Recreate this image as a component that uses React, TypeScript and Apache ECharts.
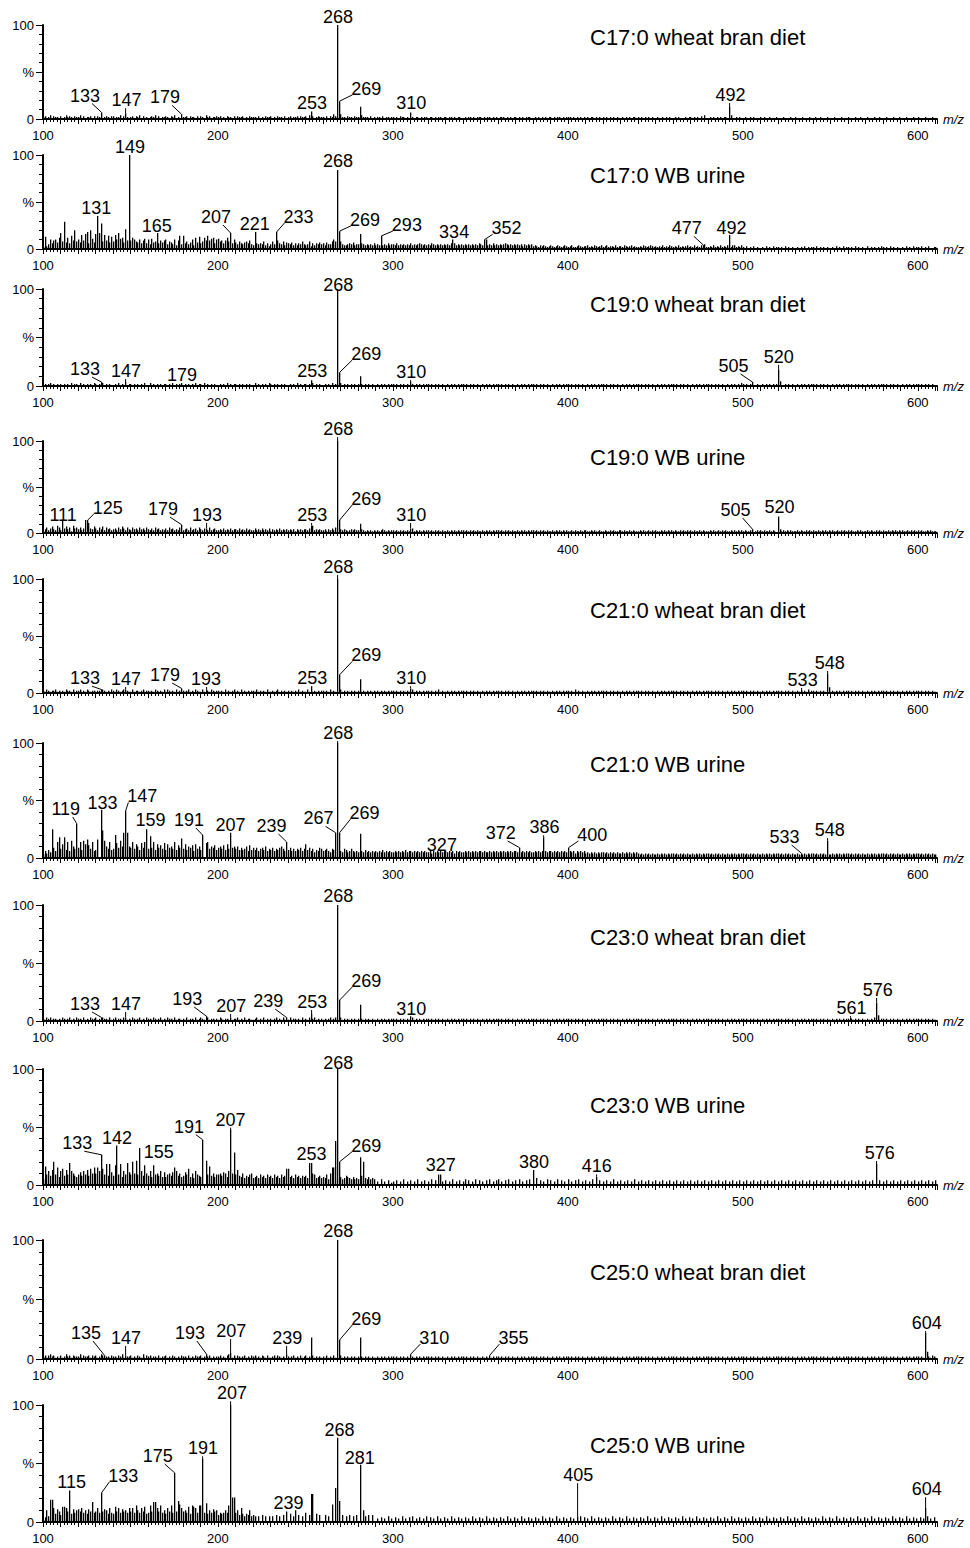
import React, { useEffect, useRef } from "react";
import * as echarts from "echarts";

// ---------------- data ----------------
const MZ_MIN = 100;
const MZ_MAX = 611;
const X_LABELS = [100, 200, 300, 400, 500, 600];

const TITLES = [
  "C17:0 wheat bran diet",
  "C17:0 WB urine",
  "C19:0 wheat bran diet",
  "C19:0 WB urine",
  "C21:0 wheat bran diet",
  "C21:0 WB urine",
  "C23:0 wheat bran diet",
  "C23:0 WB urine",
  "C25:0 wheat bran diet",
  "C25:0 WB urine",
];

// major peaks: [m/z, relative intensity %]
const MAJOR_1 = [[133, 7], [147, 6], [179, 5], [193, 4], [253, 8], [266, 5], [268, 100], [269, 19], [270, 5], [281, 13], [282, 4], [310, 7], [478, 4], [492, 13], [493, 4]];
const MAJOR_2 = [[112, 29], [131, 35], [133, 27], [147, 21], [149, 100], [165, 17], [207, 17], [221, 18], [233, 18], [268, 84], [269, 19], [281, 16], [293, 14], [334, 10], [352, 10], [477, 4], [492, 15]];
const MAJOR_3 = [[133, 4], [147, 4], [179, 3], [253, 6], [268, 100], [269, 14], [281, 10], [310, 4], [505, 4], [520, 17], [521, 5]];
const MAJOR_4 = [[111, 13], [125, 14], [179, 9], [193, 5], [253, 8], [268, 100], [269, 14], [281, 10], [310, 5], [505, 4], [520, 18]];
const MAJOR_5 = [[133, 3], [147, 3], [179, 4], [193, 3], [253, 6], [268, 100], [269, 16], [281, 12], [310, 4], [533, 3], [548, 17], [549, 5]];
const MAJOR_6 = [[105, 25], [119, 30], [133, 42], [134, 24], [146, 22], [147, 41], [148, 22], [159, 25], [161, 19], [179, 17], [191, 20], [207, 22], [239, 14], [250, 12], [267, 22], [268, 100], [269, 22], [281, 21], [327, 6], [372, 9], [386, 18], [400, 9], [533, 4], [548, 15]];
const MAJOR_7 = [[133, 3], [147, 3], [193, 4], [207, 3], [239, 3], [253, 6], [268, 100], [269, 18], [281, 14], [310, 4], [561, 3], [576, 16], [577, 5]];
const MAJOR_8 = [[106, 20], [115, 19], [133, 26], [142, 34], [151, 20], [153, 21], [155, 32], [163, 17], [175, 15], [191, 39], [193, 21], [195, 16], [207, 48], [209, 28], [240, 14], [253, 19], [264, 10], [265, 15], [267, 38], [268, 100], [269, 20], [281, 24], [283, 20], [327, 9], [380, 13], [416, 7], [576, 18]];
const MAJOR_9 = [[135, 3], [147, 3], [193, 4], [207, 5], [239, 4], [253, 18], [268, 100], [269, 16], [281, 18], [310, 4], [355, 3], [604, 22], [605, 6]];
const MAJOR_10 = [[105, 19], [112, 13], [115, 27], [128, 17], [133, 25], [161, 14], [164, 17], [175, 42], [178, 15], [186, 13], [190, 14], [191, 54], [193, 16], [207, 100], [209, 21], [239, 9], [253, 24], [265, 15], [267, 29], [268, 72], [269, 18], [281, 49], [283, 10], [405, 5], [604, 12]];

// peak annotations: [peak m/z, label centre m/z, label centre height %]
const LABEL_1 = [[133, 124, 25], [147, 147.8, 20], [179, 169.8, 23], [253, 253.7, 17], [268, 268.6, 108], [269, 284.8, 32], [310, 310.5, 17], [492, 493, 25.5]];
const LABEL_2 = [[131, 130.5, 43.8], [149, 149.8, 109], [165, 165, 24.7], [207, 198.9, 34], [221, 221, 27], [233, 246, 34], [268, 268.6, 93.6], [269, 284, 31], [293, 308, 25.5], [334, 335, 18], [352, 365, 22], [477, 468, 22], [492, 493.6, 22]];
const LABEL_3 = [[133, 124, 17.5], [147, 147.5, 15.5], [179, 179.5, 11.3], [253, 253.9, 15.5], [268, 268.8, 104], [269, 284.8, 33], [310, 310.5, 14.4], [505, 494.7, 20.6], [520, 520.5, 30]];
const LABEL_4 = [[111, 111.5, 19.6], [125, 137, 27], [179, 168.6, 26], [193, 193.8, 19.6], [253, 253.9, 19.6], [268, 268.8, 113], [269, 284.8, 37], [310, 310.5, 19.6], [505, 495.9, 25], [520, 521, 28]];
const LABEL_5 = [[133, 124, 13], [147, 147.5, 12.3], [179, 169.8, 15.8], [193, 193.2, 12.3], [253, 253.9, 13], [268, 268.8, 110.5], [269, 284.8, 33], [310, 310.5, 13], [533, 534.2, 11.4], [548, 549.7, 26.3]];
const LABEL_6 = [[119, 113, 42.6], [133, 134, 47.8], [147, 156.8, 53.5], [159, 161.4, 33], [191, 183.4, 33], [207, 207.2, 28.7], [239, 230.6, 27.8], [267, 257.5, 34.5], [268, 268.8, 108.7], [269, 283.8, 39], [327, 328, 11.7], [372, 361.6, 21.7], [386, 386.6, 26.7], [400, 414, 20], [533, 523.9, 18.3], [548, 549.7, 24.3]];
const LABEL_7 = [[133, 124, 14.7], [147, 147.5, 14.7], [193, 182.4, 19], [207, 207.6, 13], [239, 228.7, 17.2], [253, 253.9, 16.4], [268, 268.8, 107.8], [269, 284.8, 34.5], [310, 310.5, 10.3], [561, 562.2, 11.2], [576, 577.1, 26.7]];
const LABEL_8 = [[133, 119.6, 36], [142, 142.3, 40.5], [155, 166.2, 28.7], [191, 183.4, 50.3], [207, 207.2, 56.3], [253, 253.5, 27], [268, 268.8, 105], [269, 284.8, 34], [327, 327.3, 17], [380, 380.7, 20], [416, 416.5, 16], [576, 578.3, 27.6]];
const LABEL_9 = [[135, 124.6, 21.8], [147, 147.5, 17.6], [193, 184, 21.8], [207, 207.6, 23.5], [239, 239.6, 17.6], [268, 268.8, 107.6], [269, 284.8, 33.6], [310, 323.7, 17.6], [355, 368.9, 17.6], [604, 605.2, 30.3]];
const LABEL_10 = [[115, 116.4, 34.4], [133, 145.9, 39.3], [175, 165.6, 56.4], [191, 191.5, 63], [207, 208, 110], [239, 240.3, 16], [268, 269.5, 79], [281, 281, 55], [405, 406, 40], [604, 605.2, 28]];

// minor ion profiles, one base-36 character per m/z starting at m/z 100 (value = % intensity)
const PROFILE_1 =
  "2312413221 3124232132 2413122313 1324123213 3122413221 2313241312 1232413122 3213241213 2231322131 3214231223 " +
  "2312132213 1322312132 2213121322 3121322131 2312231322 3142312322 2131322330 3221322132 2312221312 1221312212 " +
  "2121322121 3212212122 1221212212 2122121221 1212212122 2121221212 1222121212 2121212221 1212121212 2121221212 " +
  "2212121212 1212212121 2121212121 1212121221 2121212121 1210212121 1212101212 2121213121 1212121212 2142112121 " +
  "1201212101 2120121012 1012101210 2101210120 1210210121 1021012101 2101201210 1210120121 0121012012 1012101210 " +
  "2101210121 0";
const PROFILE_2 =
  "2d35a69a7c h8t7c6e9k8 a7f9gi6kb7 g0hr8f9e7d 8fahbc7l90 9ca87a69b6 a5b78h6979 a5875a49e5 e6857a4c7d 68c9e9bc6a " +
  "b8969c8h6a 7586578695 4i65658463 585i965847 6574646585 4583646575 647558a800 8544565745 5g65454546 454e454645 " +
  "5464545454 6454565454 5465454545 4546a64545 4545454546 545a454645 4545654545 4545354545 3432434323 4323432343 " +
  "2342234323 3423243234 2342332423 3243234232 2324323432 3232423243 2324232342 3242324252 2324232423 24f2442324 " +
  "2131213121 1213121312 2121312121 1212131212 2131212121 1213121312 2121312121 1312121213 2121312121 1213121312 " +
  "2130213102 2";
const PROFILE_3 =
  "1212312121 2121213122 1312121213 2121312121 1213121312 2121212131 1312121212 2121312121 1212121312 2131212121 " +
  "1212131212 2121212121 1312121213 2121212121 1212131212 2121312121 1212131200 3121212121 2021212121 1212121212 " +
  "2121212121 1212121212 2121212121 1212121212 2121212121 1212121212 2121212121 1212121212 2121212121 1212121212 " +
  "2121212121 1212121212 2121212121 1212121212 2121212121 1212121212 2121212121 1212121212 2121212121 1212121213 " +
  "2121210121 1212121212 0211212121 1212121212 2121212121 1212121212 2121212121 1212121212 2121212121 1212121212 " +
  "2121212121 1";
const PROFILE_4 =
  "2463574386 3d57462856 4635e8b547 5364736453 4536475364 3645364536 4353645343 5364534365 3453634536 4354363453 " +
  "3435343534 4353435343 3534353435 2434353434 3434243434 4353834343 3424353600 4343234343 3a43232323 2323432323 " +
  "3232323232 2523232323 3232323232 2323232323 3232323232 2323232323 3232323232 2323232323 3232323232 2323232323 " +
  "2232322323 3223232232 2322323223 3232232322 2323223232 3223232323 2322323232 3232232322 2323223232 3223232323 " +
  "2322340232 3232232320 0423232322 2323223232 3223232323 2322323232 3232232322 2323223232 3223232323 2322323232 " +
  "3232232322 2";
const PROFILE_5 =
  "2132122312 1213221312 2312132122 1221321213 2132123121 1312212312 2121321213 1321213122 2123121321 1312213212 " +
  "2121312123 1213121212 2131212131 1212312121 2121213121 1312121212 2121312100 3121212121 2012121212 1212121212 " +
  "2121212121 1312121212 2121213121 1212121212 2121212121 1212121212 2121212121 1212121212 2121212121 1212121212 " +
  "2121312121 1212121212 2121212121 1212121212 2121212121 1212121212 2121212121 1212121212 2121212121 1212121212 " +
  "2121212121 1212121212 2121212121 1212121312 2121212121 1212121212 2121212121 1212121212 2121212121 1212121212 " +
  "2121212121 1";
const PROFILE_6 =
  "36475p96ei 8ci7e6fa8k 9e7fcgb8e6 7g0o9fa8e7 8kd9fam0ma 9e8ca7d9e6 8j9e7c9b8d 7c9a8e7b9h 8c7a9b6c8a 7c0de8a9b7 " +
  "9a8b7c809a 8a7978a6b7 9796897a68 796879a860 7968687968 c796857698 6786587000 6587568656 5065756565 6565756565 " +
  "5656565756 6565656565 5646565056 6565646565 5656565656 6565565656 5656565656 6505656565 5656565656 6565656565 " +
  "5656465656 4545454545 5454545454 4545454545 4343434343 3434343434 4343434343 3434343434 4343434343 3434343434 " +
  "4343434343 3434343434 4343434343 3434343434 4343434343 3434343434 4343434343 3434343434 4343434343 3434343434 " +
  "4343434343 3";
const PROFILE_7 =
  "2132312212 1321231213 2213121322 3121322131 2312213212 1321231213 2213212312 1322131221 2131221312 3212312212 " +
  "1321221312 2312131221 1231213121 2123121312 1312212131 2131231212 1212312300 3121212121 2121212121 1212121212 " +
  "2121212121 1312121212 2121212121 1212121212 2121212121 1212121212 2121212121 1212121212 2121212121 1212121212 " +
  "2121212121 1212121212 2121212121 1212121212 2121212121 1212121212 2121212121 1212121212 2121212121 1212121212 " +
  "2121212121 1212121212 2121212121 1212121212 2121212121 1212121212 2121212121 1212131212 2121212121 1212121212 " +
  "2121212121 1";
const PROFILE_8 =
  "5g9c8dk9f7 ce8d9jca87 9b8c9d8eaf afc0e9i8ib 8hd9i7c9jb 9kal9dc8ha 8c7h9a8c7b 79a8bfc8a7 8b9e7a6c98 7g0l9g8a79 " +
  "9a8ba7c0as 9d87a6879a 6786978697 869786978e 6786978687 86j7a96786 76958af000 7568765756 508k657565 0305030402 " +
  "3040305030 4030503040 3050409030 4030503040 3504030504 0304050304 5030405030 4050304050 3060403050 4030504030 " +
  "5030405030 4030506040 3040305030 4030403050 3040304030 4030403040 3040304030 4030403040 3040304030 4030403040 " +
  "3040304030 4030403040 3040304030 4030403040 3040304030 4030403040 3040304030 4030405040 3040304030 4030403040 " +
  "3040304030 4";
const PROFILE_9 =
  "2313423121 3124231322 2413223132 3124312213 2213241322 3121321413 2312213122 3121321213 2213121322 3121231212 " +
  "2312134213 1321231213 2312132131 1231321213 2123121312 3121312121 2131213100 3121212121 2021212121 1212121212 " +
  "2121212121 1212121212 2121212121 1212121212 2121212121 1212121212 2121212121 1212121212 2121212121 1212121212 " +
  "2121212121 1212121212 2121212121 1212121212 2121212121 1212121212 2121212121 1212121212 2121212121 1212121212 " +
  "2121212121 1212121212 2121212121 1212121212 2121212121 1212121212 2121212121 1212121212 2121212121 1212121212 " +
  "2121212132 1";
const PROFILE_10 =
  "24a5j8c7b9 6d8c9j7b8a b9c8a7b9c8 9c8d9ba7c8 7d9c8b9a8c 9c8ea8c9d7 8e9h8c9e8a 7c9e8f9i9c 9a8d7e9c8e 9g8c7a8b9a " +
  "6878a8e0lg 8a6c7576a5 6505060505 0506050606 0705a06050 8060o07060 0605060a00 0605060506 0800506060 0304030503 " +
  "0403050304 0503040305 0403050304 0305030403 0403050304 0305030403 0403050304 0305030403 0403050304 0305030403 " +
  "0403060504 0305030403 0403050304 0305030403 0403050304 0305030403 0403050304 0305030403 0403050304 0305030403 " +
  "0403050304 0305030403 0403050304 0305030403 0403050304 0305030403 0403050304 0305030403 0403050304 0305030403 " +
  "0403050304 0";

// ---------------- layout ----------------
const AXIS_LEFT = 43;
const AXIS_RIGHT = 937;
const PANEL_TOP = [25, 155, 289, 441, 579, 743, 905, 1069, 1240, 1405];
const PANEL_BASE = [119, 249, 386, 533, 693, 858, 1021, 1185, 1359, 1522];
const TITLE_X = 590;
const TITLE_Y = [37, 175, 304, 457, 610, 764, 937, 1105, 1272, 1445];
const FONT = "'Liberation Sans', Arial, Helvetica, sans-serif";

const MAJORS = [MAJOR_1, MAJOR_2, MAJOR_3, MAJOR_4, MAJOR_5, MAJOR_6, MAJOR_7, MAJOR_8, MAJOR_9, MAJOR_10];
const LABELS = [LABEL_1, LABEL_2, LABEL_3, LABEL_4, LABEL_5, LABEL_6, LABEL_7, LABEL_8, LABEL_9, LABEL_10];
const PROFILES = [PROFILE_1, PROFILE_2, PROFILE_3, PROFILE_4, PROFILE_5, PROFILE_6, PROFILE_7, PROFILE_8, PROFILE_9, PROFILE_10];

function decodeProfile(s: string): number[][] {
  const clean = s.replace(/\s+/g, "");
  const out: number[][] = [];
  for (let i = 0; i < clean.length; i++) {
    const h = parseInt(clean[i], 36);
    if (h > 0) out.push([MZ_MIN + i, h]);
  }
  return out;
}

function peaksFor(i: number): number[][] {
  const majors = MAJORS[i];
  const taken = new Set(majors.map((m) => m[0]));
  const minor = decodeProfile(PROFILES[i]).filter((p) => !taken.has(p[0]));
  return minor.concat(majors);
}

function labelData(i: number): number[][] {
  const majors = MAJORS[i];
  return LABELS[i].map(([mz, lx, ly]) => {
    const pk = majors.find((m) => m[0] === mz);
    return [mz, pk ? pk[1] : 0, lx, ly];
  });
}

function buildOption(): any {
  const n = TITLES.length;
  const grid: any[] = [];
  const xAxis: any[] = [];
  const yAxis: any[] = [];
  const series: any[] = [];
  const axisLineStyle = { color: "#000", width: 2 };
  const tickStyle = { color: "#000", width: 1 };

  for (let i = 0; i < n; i++) {
    grid.push({
      left: AXIS_LEFT,
      width: AXIS_RIGHT - AXIS_LEFT,
      top: PANEL_TOP[i],
      height: PANEL_BASE[i] - PANEL_TOP[i],
    });
    xAxis.push({
      type: "value",
      gridIndex: i,
      min: MZ_MIN,
      max: MZ_MAX,
      interval: 10,
      name: "m/z",
      nameLocation: "end",
      nameGap: 6,
      nameTextStyle: { fontStyle: "italic", fontSize: 13, color: "#000", fontFamily: FONT, padding: [7, 0, 0, 0], verticalAlign: "middle" },
      axisLine: { show: true, onZero: false, lineStyle: axisLineStyle },
      axisTick: { show: true, length: 5, lineStyle: tickStyle },
      minorTick: { show: true, splitNumber: 5, length: 3, lineStyle: tickStyle },
      splitLine: { show: false },
      axisLabel: {
        margin: 10,
        fontSize: 13,
        color: "#000",
        fontFamily: FONT,
        formatter: (v: number) => (X_LABELS.indexOf(v) >= 0 ? String(v) : ""),
      },
    });
    yAxis.push({
      type: "value",
      gridIndex: i,
      min: 0,
      max: 100,
      interval: 50,
      axisLine: { show: true, onZero: false, lineStyle: axisLineStyle },
      axisTick: { show: true, length: 7, lineStyle: tickStyle },
      minorTick: { show: true, splitNumber: 5, length: 4, lineStyle: tickStyle },
      splitLine: { show: false },
      axisLabel: {
        margin: 9,
        fontSize: 13,
        color: "#000",
        fontFamily: FONT,
        formatter: (v: number) => (v === 0 ? "0" : v === 50 ? "%" : v === 100 ? "100" : ""),
      },
    });
    series.push({
      type: "custom",
      xAxisIndex: i,
      yAxisIndex: i,
      data: peaksFor(i),
      silent: true,
      renderItem: (_p: any, api: any) => {
        const x = api.value(0);
        const y = api.value(1);
        const b = api.coord([x, 0]);
        const t = api.coord([x, y]);
        return {
          type: "rect",
          shape: { x: Math.round(b[0]), y: t[1], width: 1.3, height: b[1] - t[1] },
          style: { fill: "#000" },
        };
      },
    });
    series.push({
      type: "custom",
      xAxisIndex: i,
      yAxisIndex: i,
      data: labelData(i),
      silent: true,
      z: 5,
      renderItem: (_p: any, api: any) => {
        const mz = api.value(0);
        const ph = api.value(1);
        const lx = api.value(2);
        const ly = api.value(3);
        const L = api.coord([lx, ly]);
        const P = api.coord([mz, ph]);
        const px = Math.round(P[0]) + 0.6;
        const dx = px - L[0];
        let sx: number, sy: number;
        if (Math.abs(dx) < 5) {
          sx = px;
          sy = L[1] + 8;
        } else if (dx > 0) {
          sx = L[0] + 7;
          sy = L[1] + 8;
        } else {
          sx = L[0] - 14;
          sy = L[1] + 6;
        }
        const children: any[] = [
          {
            type: "text",
            style: {
              text: String(mz),
              x: L[0],
              y: L[1],
              align: "center",
              verticalAlign: "middle",
              fontSize: 18,
              fontFamily: FONT,
              fill: "#000",
            },
          },
        ];
        if (P[1] - sy > 1.5) {
          children.push({
            type: "line",
            shape: { x1: sx, y1: sy, x2: px, y2: P[1] },
            style: { stroke: "#000", lineWidth: 1 },
          });
        }
        return { type: "group", children };
      },
    });
  }

  const graphic = TITLES.map((t, i) => ({
    type: "text",
    x: TITLE_X,
    y: TITLE_Y[i],
    silent: true,
    style: { text: t, fontSize: 22, fontFamily: FONT, fill: "#000", verticalAlign: "middle" },
  }));

  return {
    animation: false,
    backgroundColor: "#fff",
    grid,
    xAxis,
    yAxis,
    series,
    graphic,
  };
}

export default function App() {
  const ref = useRef<HTMLDivElement>(null);
  useEffect(() => {
    if (!ref.current) return;
    const chart = echarts.init(ref.current, null, { renderer: "svg" });
    chart.setOption(buildOption());
    return () => chart.dispose();
  }, []);
  return (
    <div
      ref={ref}
      style={{ position: "absolute", left: 0, top: 0, width: 970, height: 1548, background: "#fff" }}
    />
  );
}
